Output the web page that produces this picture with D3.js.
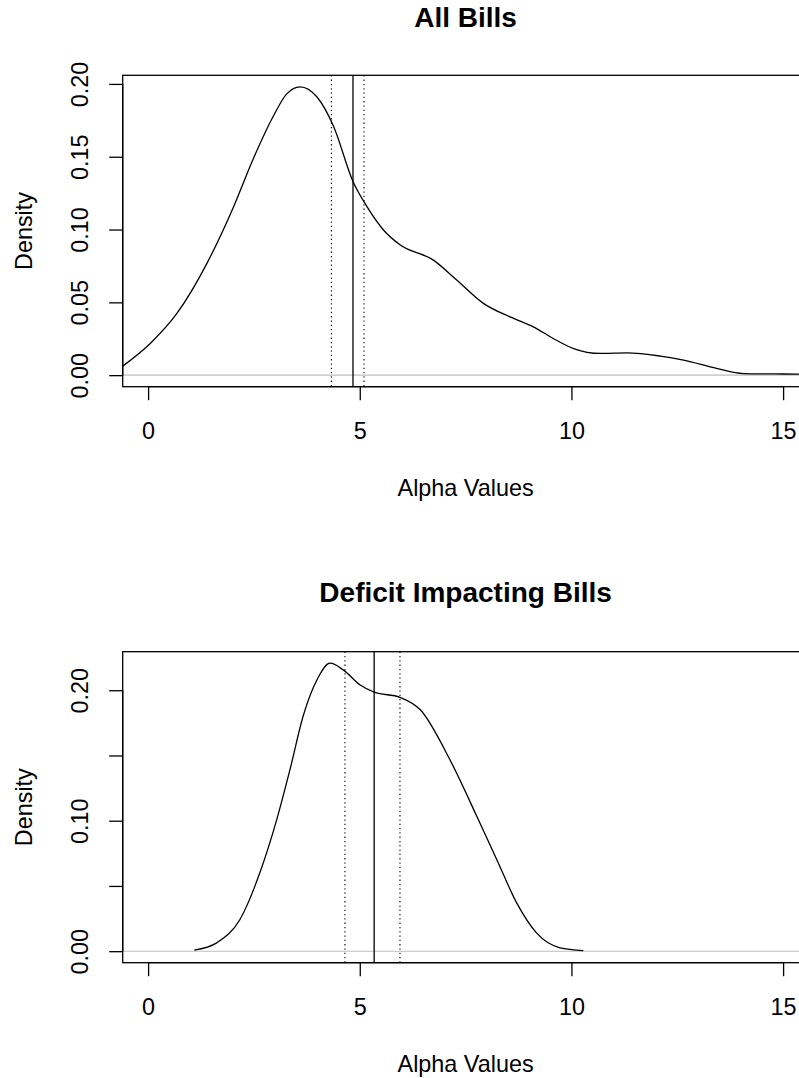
<!DOCTYPE html>
<html>
<head>
<meta charset="utf-8">
<script src="https://cdn.jsdelivr.net/npm/d3@7"></script>
<style>
  html, body { margin: 0; padding: 0; background: #fff; }
  svg { display: block; }
  text { font-family: "Liberation Sans", Arial, Helvetica, sans-serif; fill: #000; }
</style>
</head>
<body>
<svg id="chart" width="799" height="1078"></svg>
<script>
// ---- Data ----
const panelTitles = ["All Bills", "Deficit Impacting Bills"];
const xLabel = "Alpha Values";
const yLabel = "Density";
const xTicks = [0, 5, 10, 15];
const xLimits = [0, 15];

// Panel 1: All Bills density curve
const allX = [-0.6, 0.05, 0.68, 1.39, 2.02, 2.49, 2.96, 3.27, 3.59, 3.99, 4.38, 4.84, 5.17, 5.56, 5.95,
              6.74, 7.29, 7.92, 8.55, 9.10, 9.57, 10.05, 10.68, 11.31, 12.1, 12.65, 13.43, 14.06, 15.0, 15.6];
const allD = [0.0062, 0.0218, 0.0424, 0.0768, 0.1157, 0.149, 0.178, 0.193, 0.198, 0.191, 0.171, 0.133, 0.1157, 0.0997, 0.0895,
              0.079, 0.0653, 0.0493, 0.040, 0.0332, 0.0252, 0.0183, 0.0149, 0.0153, 0.0131, 0.0103, 0.0046, 0.0011, 0.0008, 0.0007];
const allMean = 4.84;
const allCI = [4.33, 5.10];
const allYTicks = [0, 0.05, 0.10, 0.15, 0.20];
const allYLabels = ["0.00", "0.05", "0.10", "0.15", "0.20"];

// Panel 2: Deficit Impacting Bills density curve
const defX = [1.09, 1.62, 2.17, 2.65, 3.04, 3.35, 3.67, 3.99, 4.30, 4.61, 5.01, 5.34, 5.95,
              6.43, 7.13, 7.77, 8.24, 8.71, 9.18, 9.73, 10.28];
const defD = [0.0008, 0.0064, 0.0243, 0.061, 0.101, 0.139, 0.181, 0.208, 0.2207, 0.2156, 0.204, 0.1985, 0.1946,
              0.185, 0.1467, 0.103, 0.0699, 0.0368, 0.0138, 0.0026, 0.0005];
const defMean = 5.34;
const defCI = [4.65, 5.95];
const defYTicks = [0, 0.05, 0.10, 0.15, 0.20];
const defYLabels = ["0.00", "", "0.10", "", "0.20"];

// ---- Layout ----
const svg = d3.select("#chart");
const plotLeft = 122.7, plotRight = 808.5;
const panels = [
  { title: panelTitles[0], xs: allX, ds: allD, mean: allMean, ci: allCI, yTicks: allYTicks, yLabels: allYLabels,
    top: 75.3, bottom: 386.7, titleY: 26.7 },
  { title: panelTitles[1], xs: defX, ds: defD, mean: defMean, ci: defCI, yTicks: defYTicks, yLabels: defYLabels,
    top: 651.7, bottom: 962.7, titleY: 601.7 }
];

const fs = 23.4;
const lw = 1.3;

panels.forEach((p, i) => {
  // R-style 4% axis extension
  const xr = xLimits[1] - xLimits[0];
  const x = d3.scaleLinear().domain([xLimits[0] - 0.04 * xr, xLimits[1] + 0.04 * xr]).range([plotLeft, plotRight]);
  const ymax = d3.max(p.ds);
  const y = d3.scaleLinear().domain([-0.04 * ymax, 1.04 * ymax]).range([p.bottom, p.top]);

  const g = svg.append("g");
  const clipId = "clip" + i;
  svg.append("defs").append("clipPath").attr("id", clipId)
    .append("rect").attr("x", plotLeft).attr("y", p.top)
    .attr("width", plotRight - plotLeft).attr("height", p.bottom - p.top);

  const inner = g.append("g").attr("clip-path", `url(#${clipId})`);

  // gray baseline at density 0
  inner.append("line")
    .attr("x1", plotLeft).attr("x2", plotRight)
    .attr("y1", y(0)).attr("y2", y(0))
    .attr("stroke", "#bebebe").attr("stroke-width", 1.1);

  // density curve
  const pts = p.xs.map((v, k) => [v, p.ds[k]]);
  const line = d3.line().x(d => x(d[0])).y(d => y(d[1])).curve(d3.curveMonotoneX);
  inner.append("path").datum(pts)
    .attr("d", line).attr("fill", "none").attr("stroke", "#000").attr("stroke-width", lw);

  // mean (solid) and interval (dotted) vertical lines
  inner.append("line")
    .attr("x1", x(p.mean)).attr("x2", x(p.mean))
    .attr("y1", p.top).attr("y2", p.bottom)
    .attr("stroke", "#000").attr("stroke-width", lw);
  p.ci.forEach(c => {
    inner.append("line")
      .attr("x1", x(c)).attr("x2", x(c))
      .attr("y1", p.top).attr("y2", p.bottom)
      .attr("stroke", "#000").attr("stroke-width", 1.1)
      .attr("stroke-dasharray", "1.3,3");
  });

  // box
  g.append("rect")
    .attr("x", plotLeft).attr("y", p.top)
    .attr("width", plotRight - plotLeft).attr("height", p.bottom - p.top)
    .attr("fill", "none").attr("stroke", "#000").attr("stroke-width", lw);

  // x axis
  const xAxis = d3.axisBottom(x).tickValues(xTicks).tickSize(13.5).tickPadding(0).tickFormat(d3.format("d"));
  const xa = g.append("g").attr("transform", `translate(0,${p.bottom})`).call(xAxis);
  xa.select(".domain").attr("stroke", "#000").attr("stroke-width", lw)
    .attr("d", `M${x(xTicks[0])},0H${x(xTicks[xTicks.length - 1])}`);
  xa.selectAll(".tick line").attr("stroke", "#000").attr("stroke-width", lw);
  xa.selectAll(".tick text")
    .attr("y", 52.6).attr("dy", null)
    .style("font-size", fs + "px").style("font-family", '"Liberation Sans", Arial, sans-serif').attr("fill", "#000");

  // y axis
  const yAxis = d3.axisLeft(y).tickValues(p.yTicks).tickSize(13.5).tickPadding(0)
    .tickFormat((d, k) => p.yLabels[k]);
  const ya = g.append("g").attr("transform", `translate(${plotLeft},0)`).call(yAxis);
  ya.select(".domain").attr("stroke", "#000").attr("stroke-width", lw)
    .attr("d", `M0,${y(p.yTicks[0])}V${y(p.yTicks[p.yTicks.length - 1])}`);
  ya.selectAll(".tick line").attr("stroke", "#000").attr("stroke-width", lw);
  ya.selectAll(".tick text")
    .attr("x", null).attr("dy", null)
    .attr("text-anchor", "middle")
    .attr("transform", "translate(-34.4,0) rotate(-90)")
    .style("font-size", fs + "px").style("font-family", '"Liberation Sans", Arial, sans-serif').attr("fill", "#000");

  // titles and axis labels
  const cx = (plotLeft + plotRight) / 2;
  g.append("text").attr("x", cx).attr("y", p.titleY)
    .attr("text-anchor", "middle").style("font-weight", "bold").style("font-size", "28px")
    .text(p.title);
  g.append("text").attr("x", cx).attr("y", p.bottom + 109.7)
    .attr("text-anchor", "middle").style("font-size", fs + "px")
    .text(xLabel);
  g.append("text")
    .attr("transform", `translate(31.5,${(p.top + p.bottom) / 2}) rotate(-90)`)
    .attr("text-anchor", "middle").style("font-size", fs + "px")
    .text(yLabel);
});
</script>
</body>
</html>
